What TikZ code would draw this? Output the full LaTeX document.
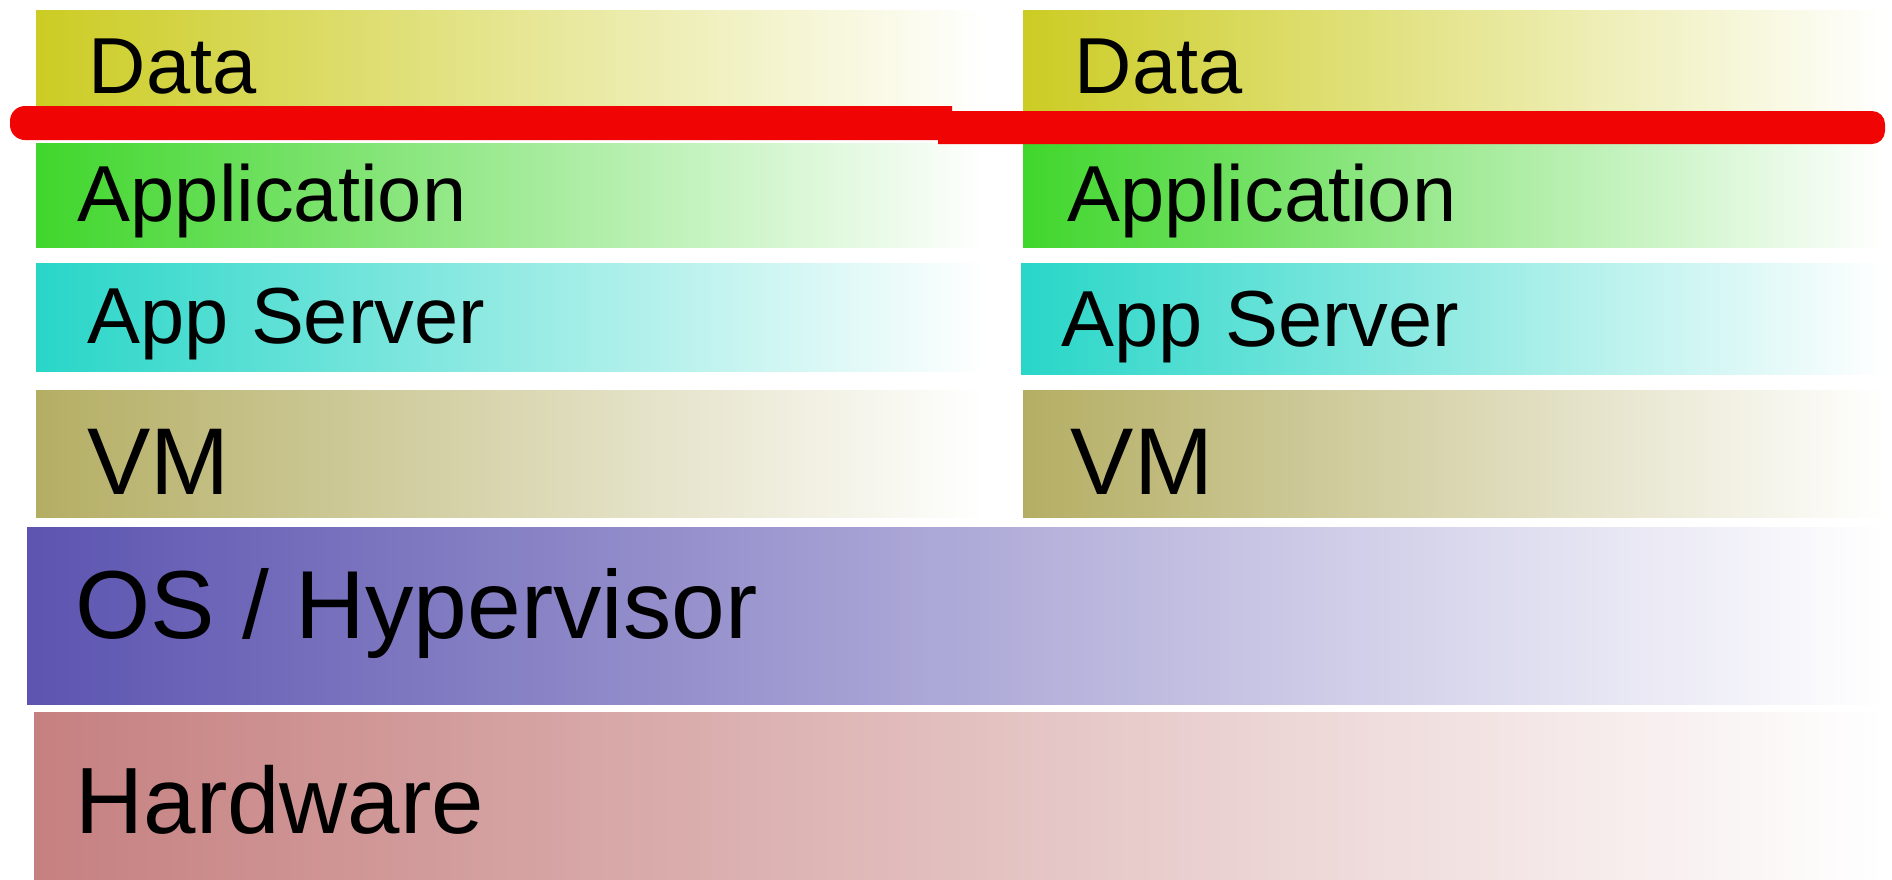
\documentclass[tikz,border=0pt]{standalone}
\usepackage{fontspec}
\setmainfont{Liberation Sans}
\usepackage{tikz}
\usetikzlibrary{positioning}
\definecolor{datacol}{RGB}{204,204,36}
\definecolor{appcol}{RGB}{64,214,44}
\definecolor{srvcol}{RGB}{40,214,200}
\definecolor{vmcol}{RGB}{180,174,100}
\definecolor{oscol}{RGB}{92,84,176}
\definecolor{hwcol}{RGB}{198,128,128}
\definecolor{cutred}{RGB}{240,4,4}

\begin{document}
\begin{tikzpicture}[x=0.1mm, y=-0.1mm,
			layer/.style={left color=#1, right color=white},
			lbl/.style={anchor=base west, inner sep=0pt, text=black, font=\fontsize{22.6}{27}\selectfont},
			vmlbl/.style={lbl, font=\fontsize{27}{32}\selectfont},
			biglbl/.style={lbl, font=\fontsize{27.5}{33}\selectfont},
			cutline/.style={fill=cutred}]
			
			\useasboundingbox (0,0) rectangle (1892,879);
			
			% Colonna sinistra
			\shade[layer=datacol] (36,10) rectangle (985,135);
			\shade[layer=appcol] (36,143) rectangle (985,247);
			\shade[layer=srvcol] (36,263) rectangle (985,371);
			\shade[layer=vmcol] (36,390) rectangle (985,517);
			
			% Colonna destra
			\shade[layer=datacol] (1023,10) rectangle (1885,135);
			\shade[layer=appcol] (1023,143) rectangle (1885,247);
			\shade[layer=srvcol] (1021,263) rectangle (1885,374);
			\shade[layer=vmcol] (1023,390) rectangle (1885,517);
			
			% Strati comuni
			\shade[layer=oscol] (27,527) rectangle (1885,704);
			\shade[layer=hwcol] (34,712) rectangle (1885,879);
			
			% --- Etichette ---
			\node[lbl] (dataL) at (88,93) {Data};
			\node[lbl] (appL) at (77,221) {Application};
			\node[lbl] (srvL) at (87,343) {App Server};
			\node[vmlbl] (vmL) at (87,494) {VM};
			
			\node[lbl] (dataR) at (1074,93) {Data};
			\node[lbl] (appR) at (1067,221) {Application};
			\node[lbl] (srvR) at (1061,346) {App Server};
			\node[vmlbl] (vmR) at (1070,494) {VM};
			
			\node[biglbl] (os) at (75,638) {OS / Hypervisor};
			\node[biglbl, font=\fontsize{26.8}{32}\selectfont] (hw) at (75,833) {Hardware};
			
			% Linea rossa (due tratti)
			\fill[cutline] (952,106) -- (952,140) [rounded corners=1.5mm] -- (10,140) -- (10,106) [sharp corners] -- cycle;
			\fill[cutline] (938,144) -- (938,111) [rounded corners=1.3mm] -- (1885,111) -- (1885,144) [sharp corners] -- cycle;
		\end{tikzpicture}
\end{document}
